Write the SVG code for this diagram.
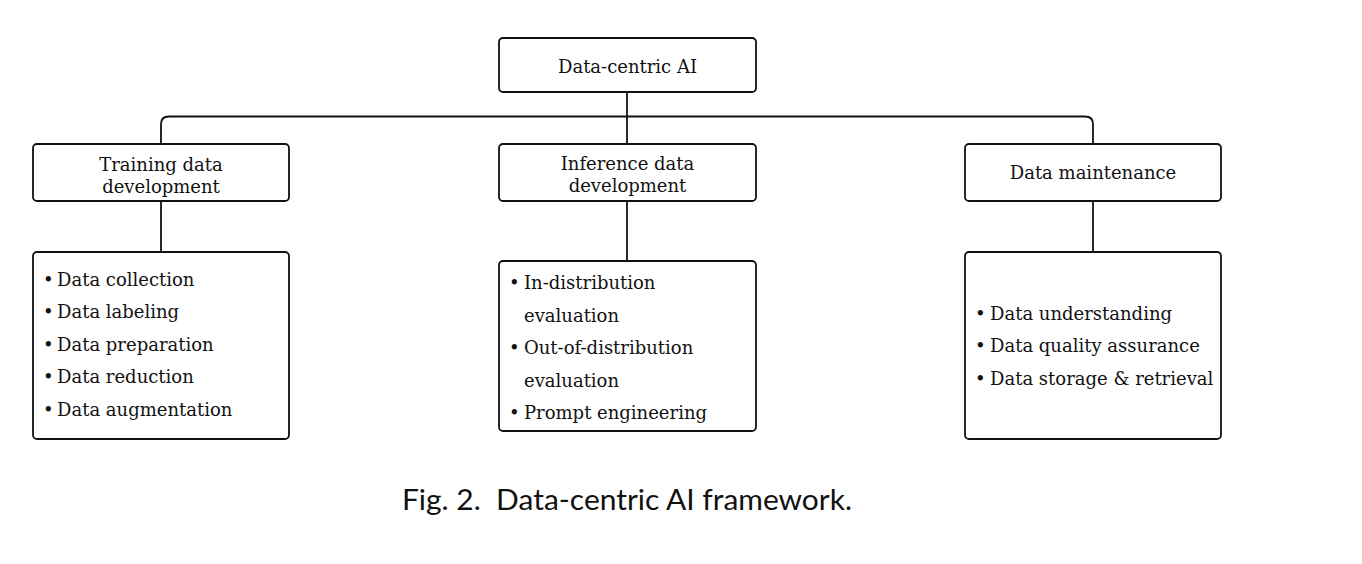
<svg xmlns="http://www.w3.org/2000/svg" width="1362" height="564" viewBox="0 0 1362 564">
<style>
.box{fill:#fff;stroke:#111;stroke-width:1.8}
.t{font-family:"DejaVu Serif","Liberation Serif",serif;font-size:18px;fill:#111}
.c{text-anchor:middle}
.ln{fill:none;stroke:#111;stroke-width:1.8}
.cap{font-family:Lato,"Liberation Sans",sans-serif;font-size:28px;fill:#111}
</style>
<rect width="1362" height="564" fill="#fff"/>
<g id="connectors">
<path class="ln" d="M161,144 V124 Q161,116.5 169,116.5 H1085 Q1093,116.5 1093,124 V144"/>
<path class="ln" d="M627,92 V144"/>
<path class="ln" d="M161,201 V252"/>
<path class="ln" d="M627,201 V261"/>
<path class="ln" d="M1093,201 V252"/>
</g>
<g id="root">
<rect class="box" x="499" y="38" width="257" height="54" rx="4"/>
<text class="t c" x="627.5" y="73">Data-centric AI</text>
</g>
<g id="training">
<rect class="box" x="33" y="144" width="256" height="57" rx="4"/>
<text class="t c" x="161" y="171">Training data</text>
<text class="t c" x="161" y="193">development</text>
</g>
<g id="inference">
<rect class="box" x="499" y="144" width="257" height="57" rx="4"/>
<text class="t c" x="627.5" y="170">Inference data</text>
<text class="t c" x="627.5" y="192">development</text>
</g>
<g id="maintenance">
<rect class="box" x="965" y="144" width="256" height="57" rx="4"/>
<text class="t c" x="1093" y="179">Data maintenance</text>
</g>
<g id="training-list">
<rect class="box" x="33" y="252" width="256" height="187" rx="4"/>
<text class="t" x="43" y="286">•<tspan x="57">Data collection</tspan></text>
<text class="t" x="43" y="318">•<tspan x="57">Data labeling</tspan></text>
<text class="t" x="43" y="351">•<tspan x="57">Data preparation</tspan></text>
<text class="t" x="43" y="383">•<tspan x="57">Data reduction</tspan></text>
<text class="t" x="43" y="416">•<tspan x="57">Data augmentation</tspan></text>
</g>
<g id="inference-list">
<rect class="box" x="499" y="261" width="257" height="170" rx="4"/>
<text class="t" x="509" y="289">•<tspan x="524">In-distribution</tspan></text>
<text class="t" x="524" y="322">evaluation</text>
<text class="t" x="509" y="354">•<tspan x="524">Out-of-distribution</tspan></text>
<text class="t" x="524" y="387">evaluation</text>
<text class="t" x="509" y="419">•<tspan x="524">Prompt engineering</tspan></text>
</g>
<g id="maintenance-list">
<rect class="box" x="965" y="252" width="256" height="187" rx="4"/>
<text class="t" x="975" y="320">•<tspan x="990">Data understanding</tspan></text>
<text class="t" x="975" y="352">•<tspan x="990">Data quality assurance</tspan></text>
<text class="t" x="975" y="385">•<tspan x="990">Data storage &amp; retrieval</tspan></text>
</g>
<text class="cap" x="402" y="510" xml:space="preserve" textLength="450" lengthAdjust="spacingAndGlyphs">Fig. 2.  Data-centric AI framework.</text>
</svg>
